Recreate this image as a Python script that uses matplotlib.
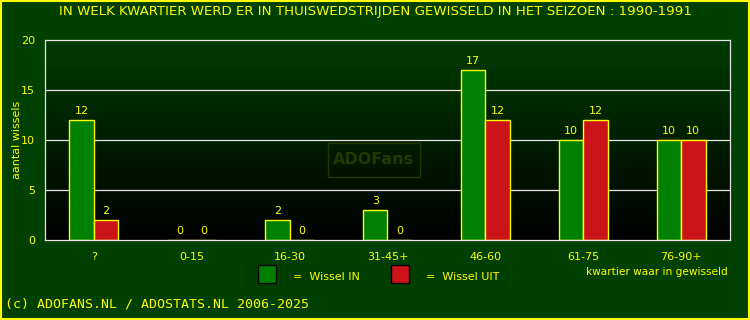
import matplotlib
matplotlib.use('Agg')
import matplotlib.pyplot as plt
import numpy as np
from matplotlib.patches import Rectangle

# ===================== data =====================
kwartieren = ['?', '0-15', '16-30', '31-45+', '46-60', '61-75', '76-90+']
wissel_in = [12, 0, 2, 3, 17, 10, 10]
wissel_uit = [2, 0, 0, 0, 12, 12, 10]

titel = 'IN WELK KWARTIER WERD ER IN THUISWEDSTRIJDEN GEWISSELD IN HET SEIZOEN : 1990-1991'

bg = '#004000'
geel = '#ffff00'
groen = '#008000'
rood = '#cc1418'
lijn = '#e6e6e6'

fig = plt.figure(figsize=(7.5, 3.2), dpi=100, facecolor=bg)
W, H = 750, 320
ax = fig.add_axes([45 / W, 1 - 240 / H, 685 / W, 200 / H])
ax.set_facecolor('none')

# gradient achtergrond van het plotvlak
grad = np.linspace(0, 1, 256).reshape(-1, 1)
top = np.array([0x00, 0x3c, 0x00]) / 255.0
img = (grad[:, :, None] * top[None, None, :])  # 0 onder = zwart, 1 boven = groen
ax.imshow(img, extent=[-0.5, 6.5, 0, 20], origin='lower', aspect='auto', zorder=0)

x = np.arange(len(kwartieren))
bw = 0.25
ax.bar(x - bw / 2, wissel_in, bw, color=groen, edgecolor=geel, linewidth=1, zorder=3)
ax.bar(x + bw / 2, wissel_uit, bw, color=rood, edgecolor=geel, linewidth=1, zorder=3)

for i in range(len(x)):
    ax.text(x[i] - bw / 2, wissel_in[i] + 0.45, str(wissel_in[i]), color=geel,
            fontsize=8, ha='center', va='bottom', zorder=4)
    ax.text(x[i] + bw / 2, wissel_uit[i] + 0.45, str(wissel_uit[i]), color=geel,
            fontsize=8, ha='center', va='bottom', zorder=4)

ax.set_xlim(-0.5, 6.5)
ax.set_ylim(0, 20)
ax.set_yticks([0, 5, 10, 15, 20])
ax.set_xticks(x)
ax.set_xticklabels(kwartieren)
for y in [5, 10, 15]:
    ax.axhline(y, color=lijn, linewidth=0.9, zorder=2)
for s in ax.spines.values():
    s.set_color(lijn)
    s.set_linewidth(0.9)
    s.set_zorder(5)
ax.tick_params(axis='both', length=0, colors=geel, labelsize=8)
ax.tick_params(axis='y', pad=7)
ax.tick_params(axis='x', pad=9)
ax.set_ylabel('aantal wissels', color=geel, fontsize=8)
ax.yaxis.set_label_coords(-23 / 685, 0.5)

# watermerk
ax.add_patch(Rectangle((2.39, 6.3), 0.94, 3.4, facecolor='none', edgecolor='#1c3800',
                       linewidth=1, zorder=1))
ax.text(2.86, 8.0, 'ADOFans', color='#1f3a00', fontsize=11.5, fontweight='bold',
        ha='center', va='center', zorder=1)

fig.text(375 / W, 1 - 12 / H, titel, color=geel, fontsize=9.6, ha='center', va='center')

# legenda
fig.patches.append(Rectangle((245 / W, 1 - 290 / H), 262 / W, 27 / H, transform=fig.transFigure,
                             facecolor='#003e00', edgecolor='none'))
fig.patches.append(Rectangle((258 / W, 1 - 283 / H), 18 / W, 18 / H, transform=fig.transFigure,
                             facecolor=groen, edgecolor='black', linewidth=1))
fig.patches.append(Rectangle((391 / W, 1 - 283 / H), 18 / W, 18 / H, transform=fig.transFigure,
                             facecolor=rood, edgecolor='black', linewidth=1))
fig.text(293 / W, 1 - 277 / H, '=  Wissel IN', color=geel, fontsize=8, va='center')
fig.text(426 / W, 1 - 277 / H, '=  Wissel UIT', color=geel, fontsize=8, va='center')
fig.text(728 / W, 1 - 272 / H, 'kwartier waar in gewisseld', color=geel, fontsize=7.6,
         ha='right', va='center')

fig.text(5 / W, 1 - 304 / H, '(c) ADOFANS.NL / ADOSTATS.NL 2006-2025', color=geel,
         fontsize=9.5, family='DejaVu Sans Mono', va='center')

# gele rand
fig.patches.append(Rectangle((0.001, 0.002), 0.997, 0.995, transform=fig.transFigure,
                             facecolor='none', edgecolor=geel, linewidth=1.5))

fig.savefig('out.png', dpi=100, facecolor=bg)
